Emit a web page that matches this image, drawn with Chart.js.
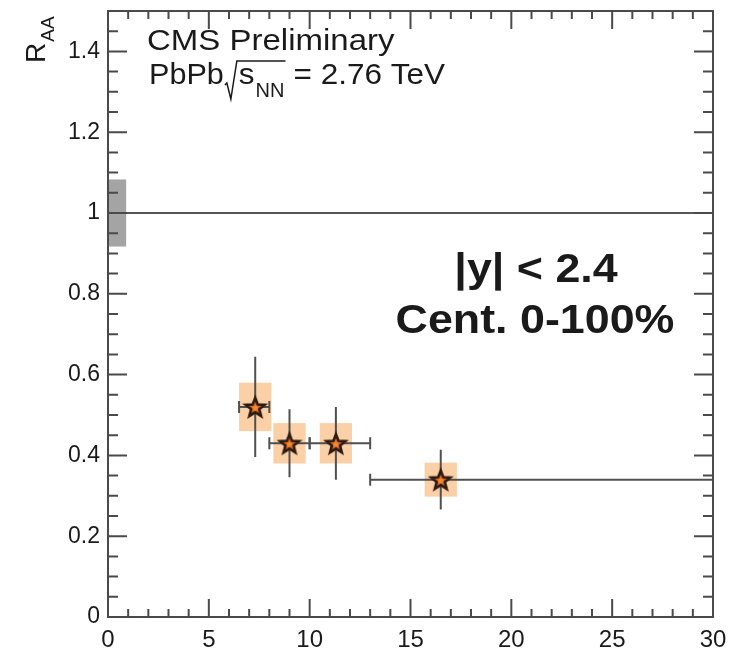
<!DOCTYPE html>
<html>
<head>
<meta charset="utf-8">
<script src="https://cdn.jsdelivr.net/npm/chart.js@4/dist/chart.umd.min.js"></script>
<style>
  html, body { margin: 0; padding: 0; background: #fff; }
  #wrap { width: 729px; height: 648px; }
</style>
</head>
<body>
<div id="wrap"><canvas id="c" width="729" height="648"></canvas></div>
<script>
// ---- data ----
const ptCenter   = [7.3, 9.0, 11.3, 16.5];      // mean pT of each bin
const ptLow      = [6.5, 8.0, 10.0, 13.0];      // bin low edge
const ptHigh     = [8.0, 10.0, 13.0, 30.0];     // bin high edge
const raaValue   = [0.52, 0.43, 0.43, 0.34];
const raaStat    = [0.124, 0.084, 0.09, 0.074];
const raaSyst    = [0.06, 0.05, 0.05, 0.042];
const systHalfW  = [0.8, 0.8, 0.8, 0.8];        // half-width of syst boxes (x units)
const globalUnc  = 0.083;                        // global uncertainty around 1
const globalBoxX = [0, 0.9];
const xTickLabels = [0, 5, 10, 15, 20, 25, 30];
const yTickLabels = [0, 0.2, 0.4, 0.6, 0.8, 1.0, 1.2, 1.4];
const xRange = [0, 30];
const yRange = [0, 1.5];

// ---- star marker ----
function makeStar() {
  const s = 26, c = document.createElement('canvas');
  c.width = s; c.height = s;
  const g = c.getContext('2d');
  const cx = s / 2, cy = s / 2 + 1, R = 10, r = 4.3;
  g.beginPath();
  for (let i = 0; i < 10; i++) {
    const rad = i % 2 === 0 ? R : r;
    const a = -Math.PI / 2 + i * Math.PI / 5;
    const px = cx + rad * Math.cos(a), py = cy + rad * Math.sin(a);
    if (i === 0) g.moveTo(px, py); else g.lineTo(px, py);
  }
  g.closePath();
  g.fillStyle = '#e2691c';
  g.fill();
  g.lineWidth = 2.6;
  g.strokeStyle = '#2a1a10';
  g.lineJoin = 'miter';
  g.stroke();
  g.beginPath();
  g.arc(cx, cy, 2.6, 0, Math.PI * 2);
  g.fillStyle = '#f08a30';
  g.fill();
  return c;
}
const starImg = makeStar();

const frameColor = '#4a4a4a';

// background layer: global box, unity line, syst boxes, error bars
const underlay = {
  id: 'underlay',
  beforeDatasetsDraw(chart) {
    const { ctx, scales: { x, y }, chartArea: a } = chart;
    ctx.save();
    // global uncertainty box
    ctx.fillStyle = '#a4a4a4';
    const gx0 = x.getPixelForValue(globalBoxX[0]), gx1 = x.getPixelForValue(globalBoxX[1]);
    const gy0 = y.getPixelForValue(1 + globalUnc), gy1 = y.getPixelForValue(1 - globalUnc);
    ctx.fillRect(gx0, gy0, gx1 - gx0, gy1 - gy0);
    // unity line
    ctx.strokeStyle = '#555';
    ctx.lineWidth = 2;
    ctx.beginPath();
    ctx.moveTo(a.left, y.getPixelForValue(1));
    ctx.lineTo(a.right, y.getPixelForValue(1));
    ctx.stroke();
    // syst boxes
    ctx.fillStyle = 'rgba(251,200,150,0.85)';
    for (let i = 0; i < ptCenter.length; i++) {
      const bx0 = x.getPixelForValue(ptCenter[i] - systHalfW[i]);
      const bx1 = x.getPixelForValue(ptCenter[i] + systHalfW[i]);
      const by0 = y.getPixelForValue(raaValue[i] + raaSyst[i]);
      const by1 = y.getPixelForValue(raaValue[i] - raaSyst[i]);
      ctx.fillRect(bx0, by0, bx1 - bx0, by1 - by0);
    }
    // error bars
    ctx.strokeStyle = '#505050';
    ctx.lineWidth = 2;
    for (let i = 0; i < ptCenter.length; i++) {
      const px = x.getPixelForValue(ptCenter[i]);
      const py = y.getPixelForValue(raaValue[i]);
      const xl = x.getPixelForValue(ptLow[i]), xh = x.getPixelForValue(ptHigh[i]);
      const yt = y.getPixelForValue(raaValue[i] + raaStat[i]);
      const yb = y.getPixelForValue(raaValue[i] - raaStat[i]);
      ctx.beginPath();
      ctx.moveTo(xl, py); ctx.lineTo(xh, py);
      ctx.moveTo(px, yt); ctx.lineTo(px, yb);
      // caps at the x-bin edges
      ctx.moveTo(xl, py - 6); ctx.lineTo(xl, py + 6);
      if (xh < a.right - 1) { ctx.moveTo(xh, py - 6); ctx.lineTo(xh, py + 6); }
      ctx.stroke();
    }
    ctx.restore();
  }
};

function stretchText(ctx, text, x, yb, font, sx, align) {
  ctx.save();
  ctx.font = font;
  let w = ctx.measureText(text).width * sx;
  let x0 = x;
  if (align === 'center') x0 = x - w / 2;
  ctx.translate(x0, yb);
  ctx.scale(sx, 1);
  ctx.textAlign = 'left';
  ctx.textBaseline = 'alphabetic';
  ctx.fillText(text, 0, 0);
  ctx.restore();
  return w;
}

// overlay: frame, inward ticks, texts
const overlay = {
  id: 'overlay',
  afterDraw(chart) {
    const { ctx, scales: { x, y }, chartArea: a } = chart;
    ctx.save();
    ctx.strokeStyle = frameColor;
    ctx.lineWidth = 2;
    ctx.strokeRect(a.left, a.top, a.right - a.left, a.bottom - a.top);
    // x ticks (bottom & top), major every 5, minor every 1
    ctx.beginPath();
    for (let v = xRange[0]; v <= xRange[1] + 1e-9; v += 1) {
      const px = x.getPixelForValue(v);
      const L = (Math.round(v) % 5 === 0) ? 18 : 8;
      ctx.moveTo(px, a.bottom); ctx.lineTo(px, a.bottom - L);
      ctx.moveTo(px, a.top); ctx.lineTo(px, a.top + L);
    }
    // y ticks (left & right), major every 0.2, minor every 0.05
    for (let k = 0; k <= 30; k++) {
      const v = k * 0.05;
      const py = y.getPixelForValue(v);
      const L = (k % 4 === 0) ? 19 : 10;
      ctx.moveTo(a.left, py); ctx.lineTo(a.left + L, py);
      ctx.moveTo(a.right, py); ctx.lineTo(a.right - L, py);
    }
    ctx.stroke();

    // texts
    ctx.fillStyle = '#1a1a1a';
    const f1 = '30px "Liberation Sans", Arial, sans-serif';
    const fsub = '20px "Liberation Sans", Arial, sans-serif';
    stretchText(ctx, 'CMS Preliminary', 147, 50, f1, 1.1, 'left');
    // second line with sqrt
    let cx = 149;
    cx += stretchText(ctx, 'PbPb', cx, 84, f1, 1.02, 'left');
    // sqrt sign
    ctx.strokeStyle = '#1a1a1a';
    ctx.lineWidth = 1.5;
    ctx.beginPath();
    ctx.moveTo(cx + 1, 85); ctx.lineTo(cx + 3, 83);
    ctx.lineTo(cx + 7, 99);
    ctx.lineTo(cx + 13, 61);
    const sStart = cx + 15;
    let sx = sStart;
    sx += stretchText(ctx, 's', sx, 84, f1, 1.05, 'left');
    sx += 1;
    sx += stretchText(ctx, 'NN', sx, 97, fsub, 1.0, 'left');
    ctx.lineTo(sx + 1, 61);
    ctx.stroke();
    stretchText(ctx, '= 2.76 TeV', sx + 9, 84, f1, 1.05, 'left');

    const fb = 'bold 40px "Liberation Sans", Arial, sans-serif';
    stretchText(ctx, '|y| < 2.4', 536, 282, fb, 1.12, 'center');
    stretchText(ctx, 'Cent. 0-100%', 535, 333, fb, 1.12, 'center');

    // y-axis title R_AA (rotated)
    ctx.save();
    ctx.translate(45, 63);
    ctx.rotate(-Math.PI / 2);
    ctx.font = '28px "Liberation Sans", Arial, sans-serif';
    ctx.textBaseline = 'alphabetic';
    ctx.fillText('R', 0, 0);
    const rw = ctx.measureText('R').width;
    ctx.font = '19px "Liberation Sans", Arial, sans-serif';
    ctx.fillText('AA', rw + 1, 9);
    ctx.restore();

    ctx.restore();
  }
};

const chart = new Chart(document.getElementById('c'), {
  type: 'scatter',
  data: {
    datasets: [{
      label: 'RAA',
      data: ptCenter.map((v, i) => ({ x: v, y: raaValue[i] })),
      pointStyle: starImg,
      pointRadius: 10,
      pointHoverRadius: 10
    }]
  },
  options: {
    responsive: false,
    animation: false,
    events: [],
    layout: { padding: { top: 11, right: 16, left: 0, bottom: 0 } },
    plugins: { legend: { display: false }, tooltip: { enabled: false } },
    scales: {
      x: {
        type: 'linear',
        min: xRange[0], max: xRange[1],
        grid: { display: false, drawTicks: false },
        border: { display: false },
        afterBuildTicks(s) { s.ticks = xTickLabels.map(v => ({ value: v })); },
        afterFit(s) { s.height = 31; s.paddingLeft = 0; s.paddingRight = 0; },
        ticks: {
          padding: 9,
          color: '#1a1a1a',
          font: { family: '"Liberation Sans", Arial, sans-serif', size: 24 },
          maxRotation: 0, autoSkip: false,
          callback: v => String(v)
        }
      },
      y: {
        type: 'linear',
        min: yRange[0], max: yRange[1],
        grid: { display: false, drawTicks: false },
        border: { display: false },
        afterBuildTicks(s) { s.ticks = yTickLabels.map(v => ({ value: v })); },
        afterFit(s) { s.width = 108; s.paddingTop = 0; s.paddingBottom = 0; },
        ticks: {
          padding: 8,
          color: '#1a1a1a',
          font: { family: '"Liberation Sans", Arial, sans-serif', size: 23 },
          autoSkip: false,
          callback: v => String(+Number(v).toFixed(1))
        }
      }
    }
  },
  plugins: [underlay, overlay]
});
</script>
</body>
</html>
